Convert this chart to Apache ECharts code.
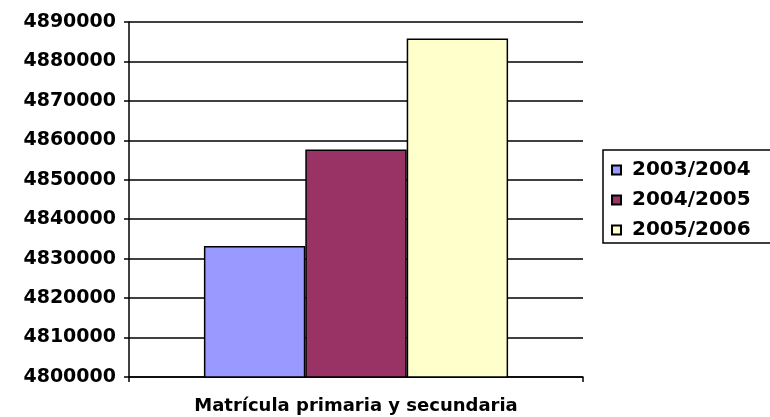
<!DOCTYPE html>
<html>
<head>
<meta charset="utf-8">
<script src="https://cdn.jsdelivr.net/npm/echarts@6/dist/echarts.min.js"></script>
<style>
html,body{margin:0;padding:0;background:#fff;}
#chart{width:770px;height:417px;}
</style>
</head>
<body>
<div id="chart"></div>
<script>
var categories = ['Matrícula primaria y secundaria'];
var seriesNames = ['2003/2004', '2004/2005', '2005/2006'];
var values2003 = [4833200];
var values2004 = [4857650];
var values2005 = [4885800];
var colors = ['#9999ff', '#993366', '#ffffcc'];

var chart = echarts.init(document.getElementById('chart'));
var font = 'DejaVu Sans, Verdana, sans-serif';
var data = [values2003, values2004, values2005];
var series = seriesNames.map(function (n, i) {
  return {
    name: n,
    type: 'bar',
    data: data[i],
    barGap: '0%',
    barCategoryGap: '33%',
    itemStyle: {color: colors[i], borderColor: '#000', borderWidth: 1.5},
    emphasis: {disabled: true}
  };
});
chart.setOption({
  animation: false,
  backgroundColor: '#fff',
  grid: {left: 129, right: 187, top: 22, bottom: 40, containLabel: false},
  legend: {
    orient: 'vertical',
    left: 603, top: 150,
    padding: [10, 40, 3, 8],
    itemGap: 10,
    itemWidth: 9, itemHeight: 9,
    icon: 'rect',
    borderColor: '#000', borderWidth: 1.5,
    textStyle: {fontFamily: font, fontWeight: 'bold', fontSize: 20, color: '#000', lineHeight: 20, padding: [0, 0, 0, 6]},
    data: seriesNames
  },
  xAxis: {
    type: 'category',
    data: categories,
    axisLine: {lineStyle: {color: '#000', width: 1.5}},
    axisTick: {show: true, length: 5, lineStyle: {color: '#000', width: 1.5}},
    axisLabel: {fontFamily: font, fontWeight: 'bold', fontSize: 18, color: '#000', margin: 20}
  },
  yAxis: {
    type: 'value',
    min: 4800000, max: 4890000, interval: 10000,
    axisLine: {show: true, lineStyle: {color: '#000', width: 1.5}},
    axisTick: {show: true, length: 5, lineStyle: {color: '#000', width: 1.5}},
    splitLine: {show: true, lineStyle: {color: '#000', width: 1.5}},
    axisLabel: {fontFamily: font, fontWeight: 'bold', fontSize: 19, color: '#000', margin: 13,
      formatter: function (v) { return String(v); }}
  },
  series: series
});
</script>
</body>
</html>
